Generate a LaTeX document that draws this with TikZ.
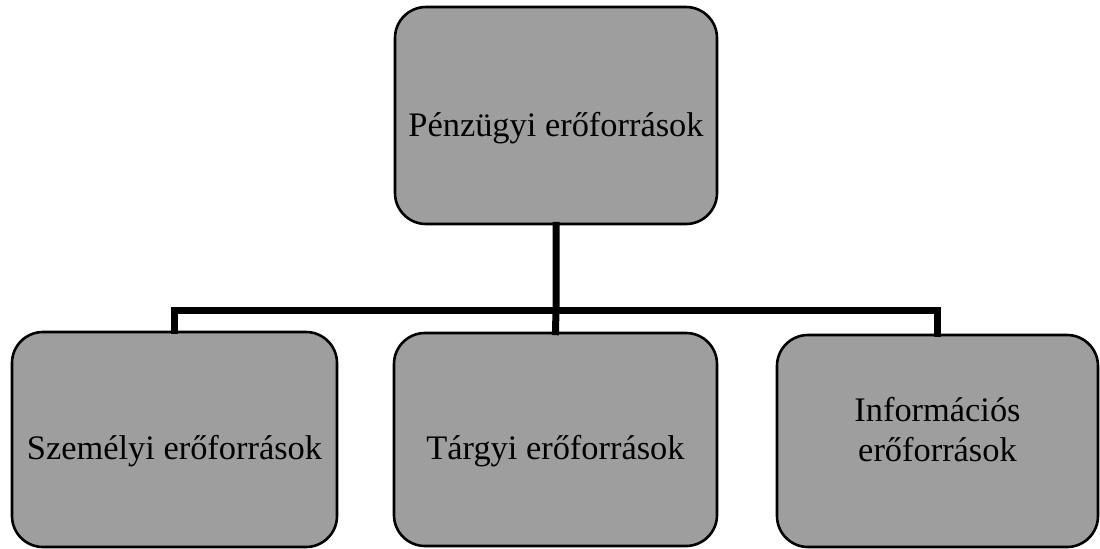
\documentclass[tikz,border=0pt]{standalone}
\usepackage{fontspec}
\setmainfont{Liberation Serif}
\usetikzlibrary{calc}
\tikzset{
	rbox/.style={draw=black, line width=1.3pt, fill=black!38, rounded corners=15.5pt, inner sep=0pt},
	felirat/.style={font=\fontsize{17.2}{20}\selectfont, align=center, inner sep=0pt},
	link/.style={line width=3.5pt, line cap=rect}
}

\begin{document}
\begin{tikzpicture}[x=0.5pt, y=-0.5pt]
				\useasboundingbox (0,0) rectangle (1100,548);
				
				\node[rbox, minimum width=161pt, minimum height=108.5pt,
					label={[felirat, yshift=-6.5pt]center:Pénzügyi erőforrások}] (penz) at (556,115.5) {};
				
				\node[rbox, minimum width=162.5pt, minimum height=107.5pt,
					label={[felirat, yshift=-6pt]center:Személyi erőforrások}] (szem) at (174.5,439.5) {};
				\node[rbox, minimum width=161.5pt, minimum height=106.5pt,
					label={[felirat, yshift=-6pt]center:Tárgyi erőforrások}] (targy) at (555.5,439.5) {};
				\node[rbox, minimum width=160.5pt, minimum height=106pt,
					label={[felirat, yshift=5.5pt]center:Információs\\erőforrások}] (info) at (937.5,441) {};
				
				\coordinate (sin) at (556,310);
				\draw[link] (penz.south) -- (sin) -- (targy.north);
				\draw[link] (szem.north) |- (sin) -| (info.north);
\end{tikzpicture}
\end{document}
